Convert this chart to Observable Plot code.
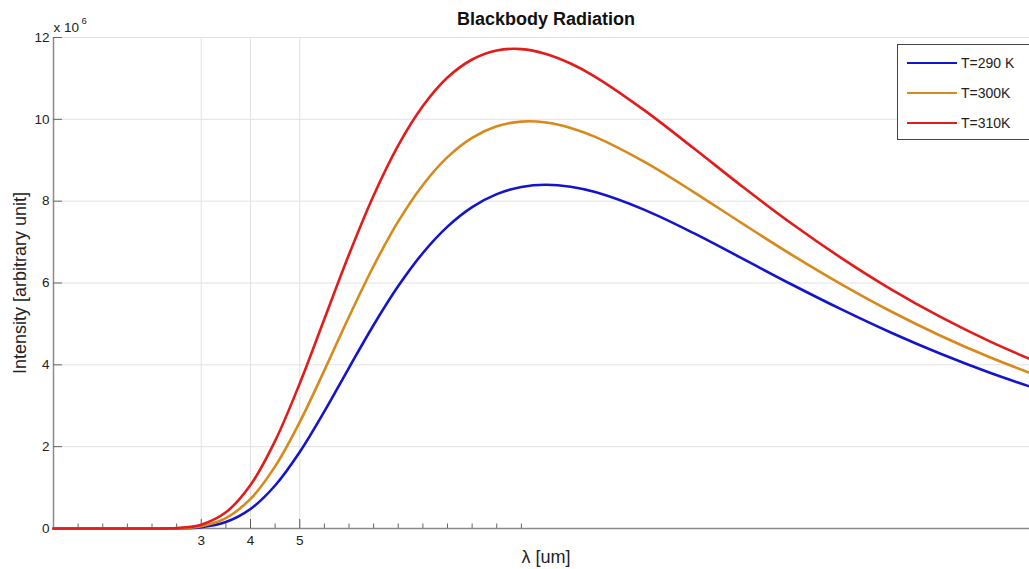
<!DOCTYPE html>
<html>
<head>
<meta charset="utf-8">
<script src="https://cdn.jsdelivr.net/npm/d3@7"></script>
<script src="https://cdn.jsdelivr.net/npm/@observablehq/plot@0.6"></script>
<style>
  html, body { margin: 0; padding: 0; background: #fff; overflow: hidden; }
  #wrap { position: relative; width: 1029px; height: 569px; overflow: hidden; font-family: "Liberation Sans", Arial, sans-serif; }
  #wrap svg { max-width: none !important; display: block; }
  #legend { position: absolute; left: 897px; top: 44px; width: 150px; height: 96px; border: 1px solid #444; background: #fff; box-sizing: border-box; }
  .item { position: absolute; left: 9px; height: 16px; display: flex; align-items: center; font-size: 14px; color: #222; }
  .item span.sw { display: inline-block; width: 50px; height: 0; border-top: 2.5px solid; margin-right: 4px; }
</style>
</head>
<body>
<div id="wrap"></div>
<script>
// wavelength in micrometres
const lambda = [0, 0.5, 1, 1.5, 2, 2.5, 3, 3.5, 4, 4.5, 5, 5.5, 6, 6.5, 7, 7.5, 8, 8.5, 9, 9.5, 10, 10.5, 11, 12, 13, 14, 15, 16, 17, 18, 19, 20];
// intensity, units of 10^6
const I290 = [0, 0, 0, 0, 0, 0.003, 0.032, 0.158, 0.477, 1.051, 1.869, 2.861, 3.927, 4.973, 5.924, 6.734, 7.378, 7.855, 8.173, 8.347, 8.400, 8.352, 8.221, 7.787, 7.218, 6.589, 5.957, 5.354, 4.790, 4.276, 3.812, 3.399];
const I300 = [0, 0, 0, 0, 0, 0.006, 0.056, 0.254, 0.722, 1.518, 2.602, 3.865, 5.174, 6.415, 7.505, 8.397, 9.077, 9.548, 9.829, 9.945, 9.923, 9.791, 9.572, 8.960, 8.223, 7.443, 6.682, 5.968, 5.310, 4.718, 4.190, 3.722];
const I310 = [0, 0, 0, 0, 0, 0.011, 0.094, 0.395, 1.063, 2.141, 3.546, 5.121, 6.697, 8.140, 9.364, 10.325, 11.021, 11.462, 11.683, 11.717, 11.599, 11.364, 11.039, 10.218, 9.292, 8.346, 7.442, 6.609, 5.851, 5.176, 4.579, 4.053];

const seriesNames = ["T=290 K", "T=300K", "T=310K"];
const seriesColors = ["#1414cc", "#d8891c", "#e21b1b"];
const seriesValues = [I290, I300, I310];

const yTicks = [0, 2, 4, 6, 8, 10, 12];
const xMajorTicks = [3, 4, 5];
const xMinorTicks = [0.5, 1, 1.5, 2, 2.5, 3.5, 4.5, 5.5, 6, 6.5, 7, 7.5, 8, 8.5, 9, 9.5];

const titleText = "Blackbody Radiation";
const xLabel = "λ [um]";
const yLabel = "Intensity [arbitrary unit]";

const rows = [];
seriesNames.forEach((name, i) => {
  lambda.forEach((l, j) => rows.push({series: name, lambda: l, intensity: seriesValues[i][j]}));
});

const font = "Liberation Sans, Arial, sans-serif";
const axisGray = "#8a8a8a";
const gridGray = "#e2e2e2";

const chart = Plot.plot({
  width: 1038,
  height: 569,
  marginLeft: 53,
  marginRight: 0,
  marginTop: 37,
  marginBottom: 41,
  style: {fontFamily: font, background: "#fff", overflow: "visible", maxWidth: "none"},
  x: {domain: [0, 20]},
  y: {domain: [0, 12]},
  color: {domain: seriesNames, range: seriesColors},
  marks: [
    Plot.gridY(yTicks.filter(d => d > 0), {stroke: gridGray, strokeOpacity: 1}),
    Plot.gridX(xMajorTicks, {stroke: gridGray, strokeOpacity: 1}),
    Plot.ruleY([0], {stroke: axisGray, strokeWidth: 1.5}),
    Plot.ruleX([0], {stroke: axisGray, strokeWidth: 1.5}),
    Plot.axisY(yTicks, {tickSize: -9, tickPadding: 13, stroke: "#666", fontSize: 13.5, fill: "#222", label: null}),
    Plot.axisX(xMajorTicks, {tickSize: -9, tickPadding: 16, stroke: "#555", fontSize: 13.5, fill: "#222", label: null}),
    Plot.axisX(xMinorTicks, {tickSize: -4.5, text: null, stroke: "#666", label: null}),
    Plot.line(rows, {x: "lambda", y: "intensity", z: "series", stroke: "series", strokeWidth: 2.6, curve: "catmull-rom"}),
    Plot.text([titleText], {text: d => d, frameAnchor: "top", lineAnchor: "middle", textAnchor: "middle", dy: -18, fontSize: 18, fontWeight: "bold", fill: "#111"}),
    Plot.text([xLabel], {text: d => d, frameAnchor: "bottom", lineAnchor: "middle", textAnchor: "middle", dy: 29, fontSize: 18, fill: "#222"}),
    Plot.text([yLabel], {text: d => d, frameAnchor: "left", lineAnchor: "middle", textAnchor: "middle", rotate: -90, dx: -33, fontSize: 18, fill: "#222"}),
    Plot.text(["x 10"], {text: d => d, frameAnchor: "top-left", lineAnchor: "middle", dx: 0, dy: -10, textAnchor: "start", fontSize: 13.5, fill: "#222"}),
    Plot.text(["6"], {text: d => d, frameAnchor: "top-left", lineAnchor: "middle", dx: 28, dy: -17, textAnchor: "start", fontSize: 9.5, fill: "#222"})
  ]
});

const wrap = document.getElementById("wrap");
wrap.appendChild(chart);

const legend = document.createElement("div");
legend.id = "legend";
const ys = [10, 40, 70];
seriesNames.forEach((name, i) => {
  const it = document.createElement("div");
  it.className = "item";
  it.style.top = ys[i] + "px";
  const sw = document.createElement("span");
  sw.className = "sw";
  sw.style.borderTopColor = seriesColors[i];
  it.appendChild(sw);
  it.appendChild(document.createTextNode(name));
  legend.appendChild(it);
});
wrap.appendChild(legend);
</script>
</body>
</html>
